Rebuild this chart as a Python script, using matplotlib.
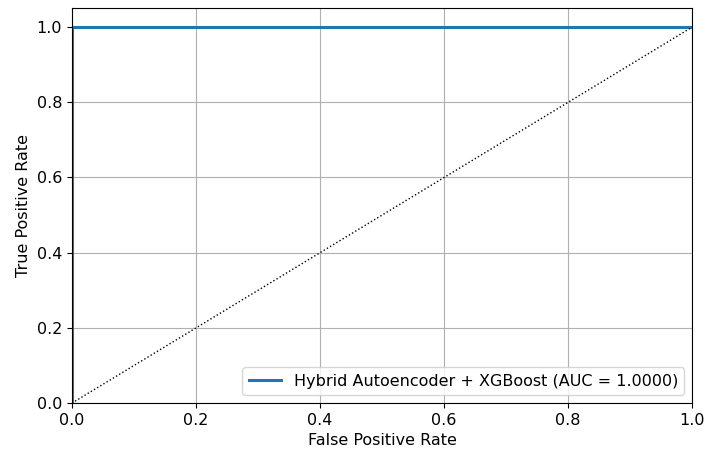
import matplotlib
matplotlib.use("Agg")
import matplotlib.pyplot as plt

fpr = [0.0, 0.0, 1.0]
tpr = [0.0, 1.0, 1.0]
diag_x = [0.0, 1.0]
diag_y = [0.0, 1.0]
label = "Hybrid Autoencoder + XGBoost (AUC = 1.0000)"

fig = plt.figure(figsize=(7.05, 4.55), dpi=100)
ax = fig.add_axes([0.102, 0.114, 0.880, 0.868])
ax.plot(fpr, tpr, color="#1f77b4", lw=2.2, label=label)
ax.plot(diag_x, diag_y, "k:", lw=1)
ax.set_xlim(0, 1)
ax.set_ylim(0, 1.05)
ax.set_xlabel("False Positive Rate", fontsize=11.5)
ax.set_ylabel("True Positive Rate", fontsize=11.5)
ax.tick_params(labelsize=11.5)
ax.grid(True)
ax.legend(loc="lower right", fontsize=11.5)
fig.savefig("out.png", dpi=100)
